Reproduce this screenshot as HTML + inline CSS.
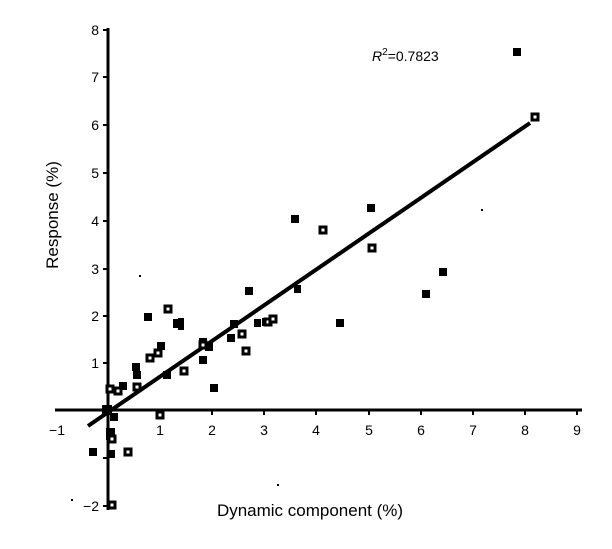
<!DOCTYPE html>
<html><head><style>body{margin:0;background:#fff}svg{display:block}text{font-family:"Liberation Sans",Arial,sans-serif;fill:#000}</style></head>
<body>
<svg width="612" height="549" viewBox="0 0 612 549" xmlns="http://www.w3.org/2000/svg">
<g stroke="#000" stroke-width="3">
<line x1="108" y1="28" x2="108" y2="510"/>
<line x1="55" y1="410" x2="582" y2="410"/>
</g>
<g stroke="#000" stroke-width="2">
<line x1="108" y1="30" x2="103" y2="30"/><line x1="108" y1="77" x2="103" y2="77"/><line x1="108" y1="125" x2="103" y2="125"/><line x1="108" y1="173" x2="103" y2="173"/><line x1="108" y1="221" x2="103" y2="221"/><line x1="108" y1="269" x2="103" y2="269"/><line x1="108" y1="316" x2="103" y2="316"/><line x1="108" y1="363" x2="103" y2="363"/><line x1="108" y1="458" x2="103" y2="458"/><line x1="108" y1="506" x2="103" y2="506"/>
<line x1="160" y1="410" x2="160" y2="415"/><line x1="212" y1="410" x2="212" y2="415"/><line x1="264" y1="410" x2="264" y2="415"/><line x1="316" y1="410" x2="316" y2="415"/><line x1="369" y1="410" x2="369" y2="415"/><line x1="421" y1="410" x2="421" y2="415"/><line x1="473" y1="410" x2="473" y2="415"/><line x1="525" y1="410" x2="525" y2="415"/><line x1="577" y1="410" x2="577" y2="415"/>
</g>
<line x1="88" y1="426" x2="530" y2="123" stroke="#000" stroke-width="4"/>
<g font-size="14" text-anchor="end">
<text x="99" y="35">8</text><text x="99" y="82">7</text><text x="99" y="130">6</text><text x="99" y="178">5</text><text x="99" y="226">4</text><text x="99" y="274">3</text><text x="99" y="321">2</text><text x="99" y="368">1</text><text x="99" y="511">−2</text>
</g>
<g font-size="14" text-anchor="middle">
<text x="57" y="435">−1</text><text x="160" y="435">1</text><text x="212" y="435">2</text><text x="264" y="435">3</text><text x="316" y="435">4</text><text x="369" y="435">5</text><text x="421" y="435">6</text><text x="473" y="435">7</text><text x="525" y="435">8</text><text x="577" y="435">9</text>
</g>
<text x="310" y="516" font-size="17" text-anchor="middle">Dynamic component (%)</text>
<text transform="translate(58,215) rotate(-90)" font-size="17" text-anchor="middle">Response (%)</text>
<text x="372" y="61" font-size="14"><tspan font-style="italic">R</tspan><tspan dy="-6" font-size="10">2</tspan><tspan dy="6">=0.7823</tspan></text>
<g fill="#000">
<rect x="513" y="48" width="8" height="8"/><rect x="291" y="215" width="8" height="8"/><rect x="439" y="268" width="8" height="8"/><rect x="422" y="290" width="8" height="8"/><rect x="245" y="287" width="8" height="8"/><rect x="336" y="319" width="8" height="8"/><rect x="210" y="384" width="8" height="8"/><rect x="367" y="204" width="8" height="8"/><rect x="144" y="313" width="8" height="8"/><rect x="173" y="319" width="7" height="9"/><rect x="132" y="363" width="8" height="8"/><rect x="133" y="371" width="8" height="8"/><rect x="119" y="382" width="8" height="8"/><rect x="163" y="371" width="8" height="8"/><rect x="199" y="356" width="8" height="8"/><rect x="205" y="343" width="8" height="8"/><rect x="227" y="334" width="8" height="8"/><rect x="230" y="320" width="8" height="8"/><rect x="199" y="338" width="8" height="8"/><rect x="157" y="342" width="8" height="8"/><rect x="254" y="319" width="7" height="8"/><rect x="262" y="318" width="7" height="8"/><rect x="294" y="285" width="7" height="8"/><rect x="102" y="405" width="10" height="10"/><rect x="110" y="413" width="8" height="8"/><rect x="106" y="428" width="9" height="12"/><rect x="89" y="448" width="8" height="8"/><rect x="109" y="450" width="6" height="8"/><rect x="178" y="318" width="6" height="12"/>
<rect x="71" y="499" width="2" height="2"/><rect x="277" y="484" width="2" height="2"/><rect x="139" y="275" width="2" height="2"/><rect x="481" y="209" width="2" height="2"/>
</g>
<g fill="#fff" stroke="#000" stroke-width="3">
<rect x="532" y="114" width="6" height="6"/><rect x="320" y="227" width="6" height="6"/><rect x="369" y="245" width="6" height="6"/><rect x="165" y="306" width="6" height="6"/><rect x="265" y="319" width="6" height="6"/><rect x="270" y="316" width="6" height="6"/><rect x="239" y="331" width="6" height="6"/><rect x="243" y="348" width="6" height="6"/><rect x="147" y="355" width="6" height="6"/><rect x="181" y="368" width="6" height="6"/><rect x="134" y="384" width="6" height="6"/><rect x="115" y="388" width="6" height="6"/><rect x="157" y="412" width="6" height="6"/><rect x="109" y="436" width="6" height="6"/><rect x="125" y="449" width="6" height="6"/><rect x="109" y="502" width="6" height="6"/><rect x="155" y="350" width="6" height="6"/><rect x="107" y="386" width="6" height="6"/><rect x="200" y="342" width="6" height="6"/>
</g>
</svg>
</body></html>
